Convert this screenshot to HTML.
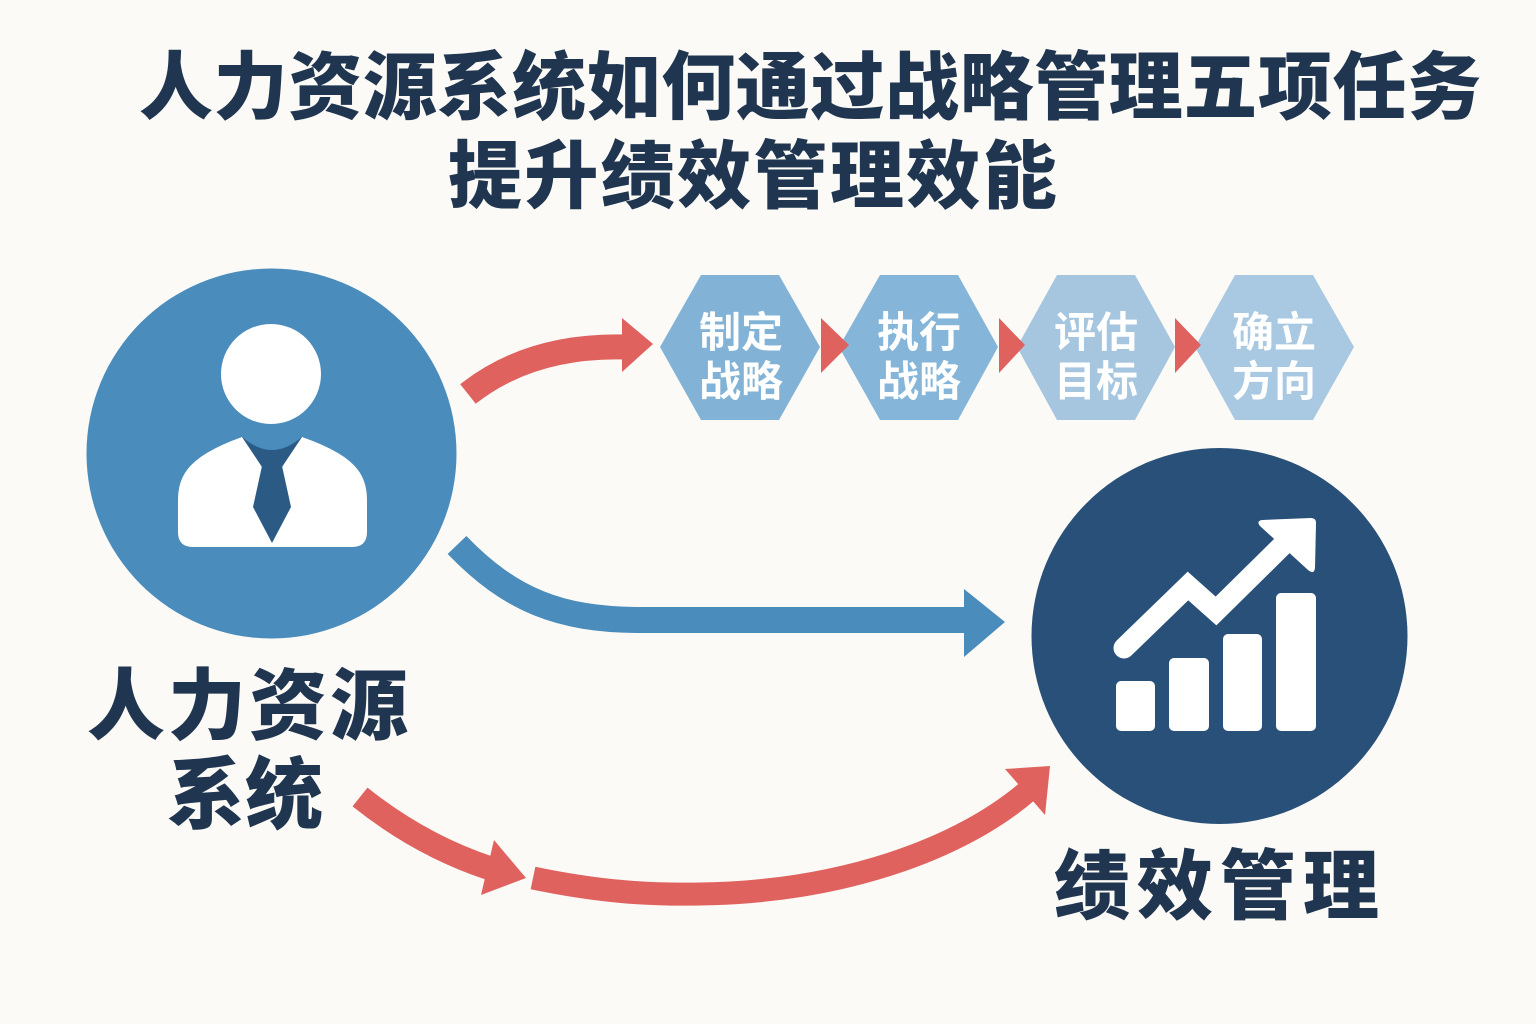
<!DOCTYPE html>
<html>
<head>
<meta charset="utf-8">
<style>
  html,body{margin:0;padding:0;background:#fbfaf6;}
  svg{display:block;}
  text{font-family:"Liberation Sans","Noto Sans CJK SC",sans-serif;}
</style>
</head>
<body>
<svg width="1536" height="1024" viewBox="0 0 1536 1024" xmlns="http://www.w3.org/2000/svg">
  <rect width="1536" height="1024" fill="#fbfaf6"/>

  <!-- Title -->
  <text x="139" y="113" font-size="74" font-weight="900" fill="#1f3550" style="letter-spacing:0.6px">人力资源系统如何通过战略管理五项任务</text>
  <text x="448" y="202" font-size="74" font-weight="900" fill="#1f3550" style="letter-spacing:2.4px">提升绩效管理效能</text>

  <!-- Left circle (HR) -->
  <circle cx="271.5" cy="453.5" r="185" fill="#4a8cbc"/>
  <circle cx="271" cy="374" r="50" fill="#ffffff"/>
  <path d="M242,437 L302,437 Q345,452 358,470 Q367,482 367,500 L367,532 Q367,547 352,547 L193,547 Q178,547 178,532 L178,500 Q178,482 187,470 Q200,452 242,437 Z" fill="#ffffff"/>
  <polygon points="242,437 302,437 282,467 262,467" fill="#2b5a85"/>
  <path d="M240,435 Q272,465 304,435 Z" fill="#4a8cbc"/>
  <polygon points="262,466 282,466 291,507 272,543 253,507" fill="#2b5a85"/>

  <!-- Right circle (Performance) -->
  <circle cx="1219.5" cy="636" r="188" fill="#285079"/>
  <rect x="1116" y="681" width="39" height="50" rx="5" fill="#ffffff"/>
  <rect x="1169" y="658" width="40" height="73" rx="5" fill="#ffffff"/>
  <rect x="1223" y="634" width="39" height="97" rx="5" fill="#ffffff"/>
  <rect x="1276" y="593" width="40" height="138" rx="5" fill="#ffffff"/>
  <polyline points="1124,648 1188,586 1216,611 1292,536" fill="none" stroke="#ffffff" stroke-width="21" stroke-linecap="round" stroke-linejoin="miter"/>
  <path d="M1262,520 L1311,518 Q1316,518 1316,523 L1315,568 Q1314,575 1308,570 L1260,526 Q1256,521 1262,520 Z" fill="#ffffff"/>

  <!-- Top red arrow -->
  <path d="M468,394 Q530,345 624,347" fill="none" stroke="#e0625f" stroke-width="25"/>
  <polygon points="622,318 653,344 622,372" fill="#e0625f"/>

  <!-- Blue arrow -->
  <path d="M457,545 C510,600 560,620 640,620 L966,620" fill="none" stroke="#4a8cbc" stroke-width="26"/>
  <polygon points="964,589 1005,622 964,657" fill="#4a8cbc"/>

  <!-- Bottom red arrows -->
  <path d="M360,797 Q420,845 489,868" fill="none" stroke="#e0625f" stroke-width="24"/>
  <polygon points="494,840 526,878 481,895" fill="#e0625f"/>
  <path d="M533,878 C600,892 650,895 700,894 C840,892 960,850 1029,790" fill="none" stroke="#e0625f" stroke-width="23"/>
  <polygon points="1005,769 1050,766 1045,815" fill="#e0625f"/>

  <!-- Hexagons -->
  <polygon points="660,347 701,275 779,275 820,347 779,420 701,420" fill="#82b3d6"/>
  <polygon points="839,347 880,275 958,275 998,347 958,420 880,420" fill="#85b5d8"/>
  <polygon points="1017,347 1057,275 1135,275 1175,347 1135,420 1057,420" fill="#a6c6e0"/>
  <polygon points="1195,347 1235,275 1313,275 1354,347 1313,420 1235,420" fill="#a9c8e2"/>

  <!-- Red connector triangles -->
  <polygon points="821,318 849,345 821,373" fill="#e0625f"/>
  <polygon points="999,318 1025,345 999,373" fill="#e0625f"/>
  <polygon points="1175,318 1201,345 1175,373" fill="#e0625f"/>

  <!-- Hexagon labels -->
  <g font-size="42" font-weight="700" fill="#ffffff" text-anchor="middle">
    <text x="741" y="347">制定</text>
    <text x="741" y="396">战略</text>
    <text x="919" y="347">执行</text>
    <text x="919" y="396">战略</text>
    <text x="1096" y="347">评估</text>
    <text x="1096" y="396">目标</text>
    <text x="1274" y="347">确立</text>
    <text x="1274" y="396">方向</text>
  </g>

  <!-- Node labels -->
  <text x="87" y="733" font-size="78" font-weight="900" fill="#1f3550" style="letter-spacing:3px">人力资源</text>
  <text x="167" y="822" font-size="78" font-weight="900" fill="#1f3550">系统</text>
  <text x="1054" y="913" font-size="76" font-weight="900" fill="#1f3550" style="letter-spacing:7px">绩效管理</text>
</svg>
</body>
</html>
